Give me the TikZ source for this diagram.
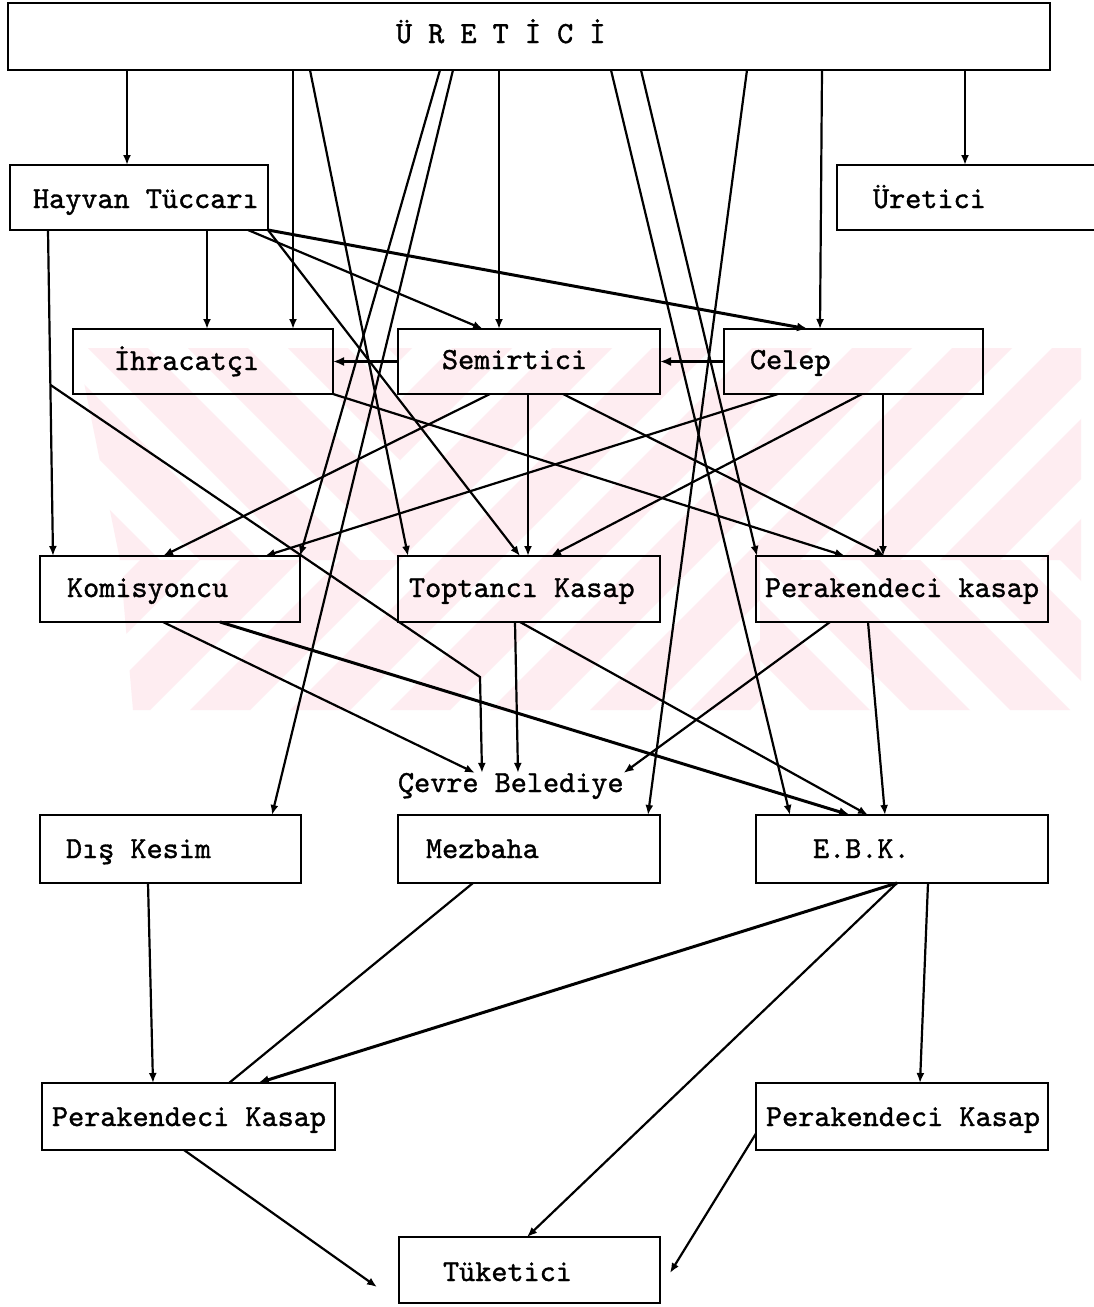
\documentclass[tikz,border=0pt]{standalone}
\usepackage{fontspec}
\newfontfamily\twfont{lmmono10-regular.otf}[FakeBold=1.2]
\usetikzlibrary{arrows.meta,calc}
\definecolor{wmpink}{RGB}{254,237,241}
\begin{document}
\begin{tikzpicture}[x=1pt,y=-1pt,
  box/.style={draw,line width=2.3pt,inner sep=0pt,outer sep=0pt,anchor=north west},
  lbl/.style={inner sep=0pt,outer sep=0pt,anchor=base west,font=\twfont\fontsize{30.7}{36}\selectfont},
  con/.style={line width=2.2pt,-{Latex[length=10pt,width=8pt]}},
  thick con/.style={line width=3pt,-{Latex[length=11pt,width=9pt]}},
  bare/.style={line width=2.2pt},
  wm/.style={fill=wmpink,draw=none}]
\clip (0,0) rectangle (1094,1307);
\fill[white] (0,0) rectangle (1094,1307);
% faint watermark stripes
\begin{scope}
  \clip (77,348) -- (400,348) -- (400,560) -- (120,560) -- cycle;
  \foreach \c in {-660,-560,...,340} {
    \fill[wm] ({\c+348},348) -- ({\c+408},348) -- ({\c+770},710) -- ({\c+710},710) -- cycle;
  }
\end{scope}
\begin{scope}
  \clip (400,348) -- (1081,348) -- (1081,560) -- (760,560) -- (760,710) -- (133,710) -- (120,560) -- (400,560) -- cycle;
  \foreach \c in {500,600,...,1900} {
    \fill[wm] ({\c-348},348) -- ({\c-288},348) -- ({\c-650},710) -- ({\c-710},710) -- cycle;
  }
\end{scope}
\begin{scope}
  \clip (760,560) rectangle (1081,710);
  \foreach \c in {-100,0,...,600} {
    \fill[wm] ({\c+348},348) -- ({\c+408},348) -- ({\c+770},710) -- ({\c+710},710) -- cycle;
  }
\end{scope}
% boxes
\node[box,minimum width=1042pt,minimum height=67pt] (U) at (8,3) {};
\node[box,minimum width=258pt,minimum height=65pt] (hay) at (10,165) {};
\node[box,minimum width=270pt,minimum height=65pt] (ure) at (837,165) {};
\node[box,minimum width=260pt,minimum height=65pt] (ihr) at (73,329) {};
\node[box,minimum width=262pt,minimum height=65pt] (sem) at (398,329) {};
\node[box,minimum width=259pt,minimum height=65pt] (cel) at (724,329) {};
\node[box,minimum width=260pt,minimum height=66pt] (kom) at (40,556) {};
\node[box,minimum width=262pt,minimum height=66pt] (top) at (398,556) {};
\node[box,minimum width=292pt,minimum height=66pt] (per) at (756,556) {};
\node[box,minimum width=261pt,minimum height=68pt] (dis) at (40,815) {};
\node[box,minimum width=262pt,minimum height=68pt] (mez) at (398,815) {};
\node[box,minimum width=292pt,minimum height=68pt] (ebk) at (756,815) {};
\node[box,minimum width=293pt,minimum height=67pt] (pkl) at (42,1083) {};
\node[box,minimum width=292pt,minimum height=67pt] (pkr) at (756,1083) {};
\node[box,minimum width=261pt,minimum height=66pt] (tuk) at (399,1237) {};
% labels
\node[lbl] (uL) at (396,43) {Ü R E T İ C İ};
\node[lbl] (hayL) at (33,208) {Hayvan Tüccarı};
\node[lbl] (ureL) at (873,208) {Üretici};
\node[lbl] (ihrL) at (114,370) {İhracatçı};
\node[lbl] (semL) at (442,369) {Semirtici};
\node[lbl] (celL) at (750,369) {Celep};
\node[lbl] (komL) at (67,597) {Komisyoncu};
\node[lbl] (topL) at (409,597) {Toptancı Kasap};
\node[lbl] (perL) at (765,597) {Perakendeci kasap};
\node[lbl] (cev) at (398,792) {Çevre Belediye};
\node[lbl] (disL) at (66,858) {Dış Kesim};
\node[lbl] (mezL) at (426,858) {Mezbaha};
\node[lbl] (ebkL) at (813,858) {E.B.K.};
\node[lbl] (pklL) at (52,1126) {Perakendeci Kasap};
\node[lbl] (pkrL) at (766,1126) {Perakendeci Kasap};
\node[lbl] (tukL) at (443,1281) {Tüketici};
% helper coordinates
\path (48,0 |- hay.south) -- (53,0 |- kom.north) coordinate[pos=0.475] (hb);
\coordinate (kink) at (480,677);
% from URETICI
\draw[con] (127,0 |- U.south) -- (127,0 |- hay.north);
\draw[con] (965,0 |- U.south) -- (965,0 |- ure.north);
\draw[con] (293,0 |- U.south) -- (293,0 |- ihr.north);
\draw[con] (310,0 |- U.south) -- (408,0 |- top.north);
\draw[con] (440,0 |- U.south) -- (kom.north east);
\draw[con] (453,0 |- U.south) -- (272,0 |- dis.north);
\draw[con] (499,0 |- U.south) -- (499,0 |- sem.north);
\draw[con] (611,0 |- U.south) -- (790,0 |- ebk.north);
\draw[con] (641,0 |- U.south) -- (757,0 |- per.north);
\draw[con] (747,0 |- U.south) -- (648,0 |- mez.north);
\draw[con] (822,0 |- U.south) -- (820,0 |- cel.north);
% from Hayvan Tuccari
\draw[con] (207,0 |- hay.south) -- (207,0 |- ihr.north);
\draw[con] (48,0 |- hay.south) -- (53,0 |- kom.north);
\draw[con] (hb) -- (kink) -- (482,0 |- cev.north);
\draw[con] (248,0 |- hay.south) -- (483,0 |- sem.north);
\draw[con] (hay.south east) -- (520,0 |- top.north);
\draw[thick con] (hay.south east) -- (808,0 |- cel.north);
% middle row
\draw[thick con] (sem.west) -- (ihr.east);
\draw[thick con] (cel.west) -- (sem.east);
\draw[con] (490,0 |- sem.south) -- (163,0 |- kom.north);
\draw[con] (528,0 |- sem.south) -- (528,0 |- top.north);
\draw[con] (563,0 |- sem.south) -- (885,0 |- per.north);
\draw[con] (ihr.south east) -- (845,0 |- per.north);
\draw[con] (778,0 |- cel.south) -- (265,0 |- kom.north);
\draw[con] (862,0 |- cel.south) -- (551,0 |- top.north);
\draw[con] (883,0 |- cel.south) -- (883,0 |- per.north);
% lower
\draw[con] (163,0 |- kom.south) -- (475,0 |- cev.north);
\draw[thick con] (220,0 |- kom.south) -- (850,0 |- ebk.north);
\draw[con] (515,0 |- top.south) -- (518,0 |- cev.north);
\draw[con] (520,0 |- top.south) -- (868,0 |- ebk.north);
\draw[con] (830,0 |- per.south) -- (cev.north east);
\draw[con] (868,0 |- per.south) -- (885,0 |- ebk.north);
% bottom
\draw[con] (148,0 |- dis.south) -- (153,0 |- pkl.north);
\draw[bare] (473,0 |- mez.south) -- (229,0 |- pkl.north);
\draw[thick con] (897,0 |- ebk.south) -- (258,0 |- pkl.north);
\draw[con] (897,0 |- ebk.south) -- (527,0 |- tuk.north);
\draw[con] (928,0 |- ebk.south) -- (920,0 |- pkr.north);
\draw[con] (184,0 |- pkl.south) -- ($(tuk.west)+(-22,17)$);
\draw[con] ($(pkr.west)+(0,17)$) -- ($(tuk.east)+(10,3)$);
\end{tikzpicture}
\end{document}
